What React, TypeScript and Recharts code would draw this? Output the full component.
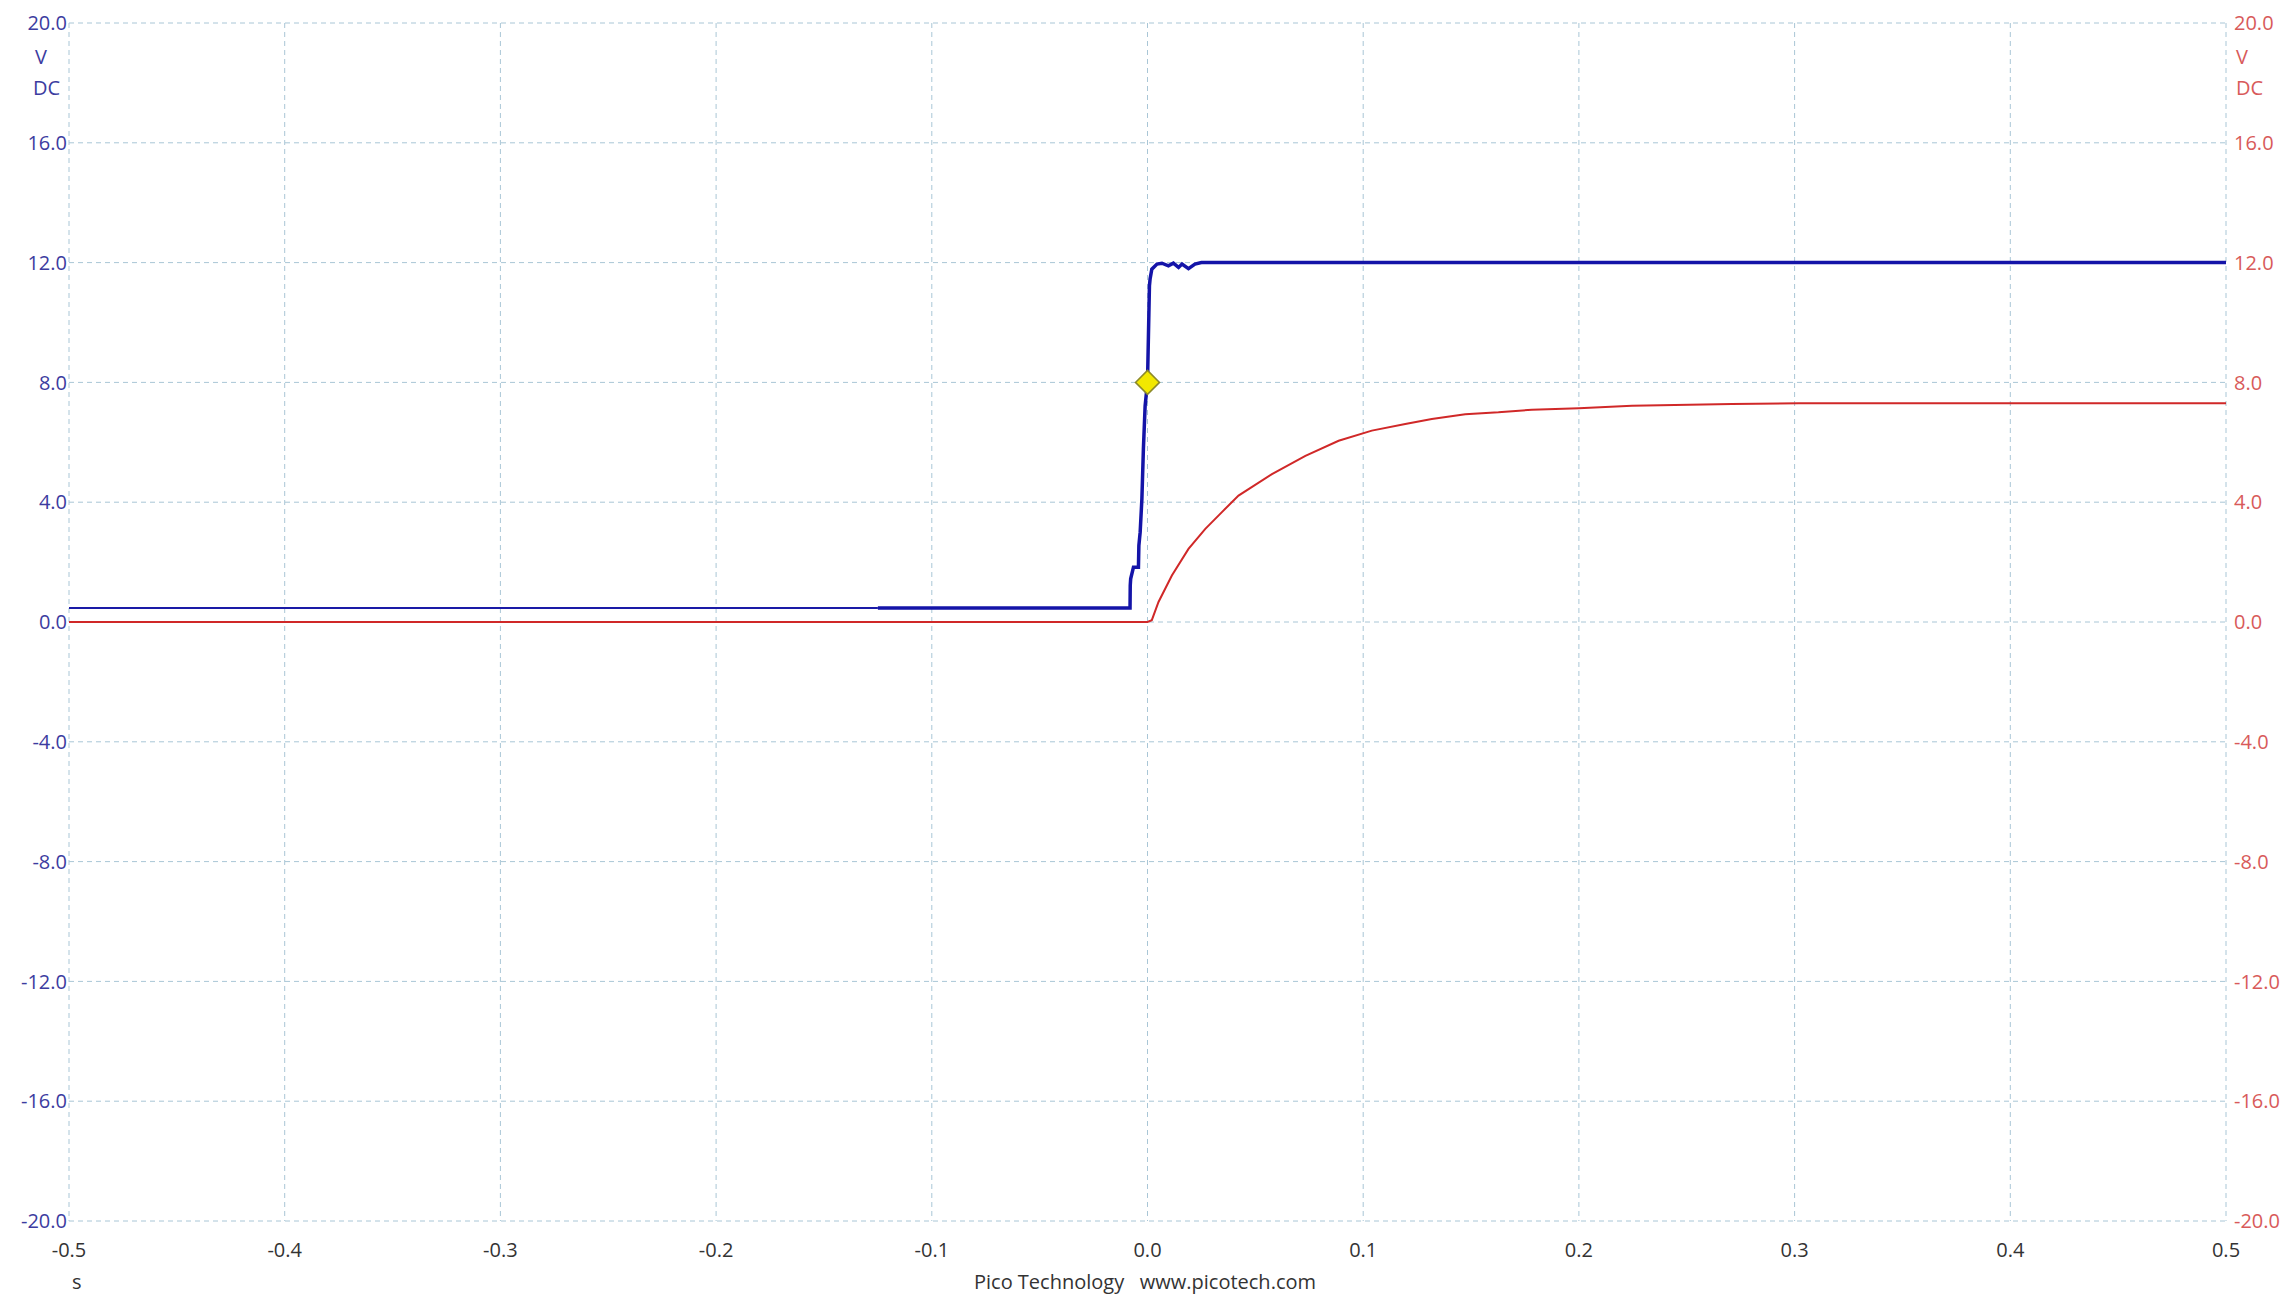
import React from 'react';
import {
  LineChart,
  Line,
  XAxis,
  YAxis,
  CartesianGrid,
  ReferenceDot,
} from 'recharts';

// time axis (s)
const xTicks = [-0.5, -0.4, -0.3, -0.2, -0.1, 0, 0.1, 0.2, 0.3, 0.4, 0.5];
// voltage axis (V)
const yTicks = [-20, -16, -12, -8, -4, 0, 4, 8, 12, 16, 20];

// channel A (blue) – thin baseline section before the capture gets dense
const blueThinT = [-0.5, -0.125];
const blueThinV = [0.47, 0.47];

// channel A (blue) – main trace
const blueT = [
  -0.125, -0.0081, -0.008, -0.0078, -0.0065, -0.0042, -0.004, -0.0034, -0.0026,
  -0.0019, -0.0011, 0, 0.0004, 0.0009, 0.0012, 0.002, 0.0044, 0.0067, 0.0097,
  0.012, 0.0144, 0.016, 0.019, 0.022, 0.025, 0.5,
];
const blueV = [
  0.47, 0.47, 1.22, 1.44, 1.83, 1.83, 2.55, 3.0, 4.11, 5.78, 7.22, 8.0, 9.44,
  11.22, 11.45, 11.78, 11.95, 11.98, 11.89, 11.98, 11.84, 11.95, 11.8, 11.95,
  12.0, 12.0,
];

// channel B (red)
const redT = [
  -0.5, 0, 0.002, 0.0051, 0.0113, 0.019, 0.0268, 0.0345, 0.0422, 0.0577, 0.0732,
  0.0886, 0.104, 0.1195, 0.1318, 0.1473, 0.1627, 0.1782, 0.2, 0.2246, 0.2709,
  0.302, 0.5,
];
const redV = [
  0, 0, 0.06, 0.67, 1.55, 2.44, 3.11, 3.67, 4.22, 4.94, 5.55, 6.05, 6.39, 6.61,
  6.78, 6.94, 7.0, 7.09, 7.14, 7.22, 7.28, 7.3, 7.3,
];

// trigger marker
const triggerT = 0;
const triggerV = 8;

const zip = (ts: number[], vs: number[]) => ts.map((t, i) => ({ t, v: vs[i] }));

const blueThinData = zip(blueThinT, blueThinV);
const blueData = zip(blueT, blueV);
const redData = zip(redT, redV);

const FONT = '"Open Sans", "Noto Sans", sans-serif';
const BLUE_TEXT = '#3c3ca0';
const RED_TEXT = '#d85a5a';
const GRID = '#a9c6d6';

const Diamond = (props: any) => {
  const { cx, cy } = props;
  if (cx == null || cy == null) return null;
  const r = 12;
  return (
    <polygon
      points={`${cx},${cy - r} ${cx + r},${cy} ${cx},${cy + r} ${cx - r},${cy}`}
      fill="#f2e800"
      stroke="#8c8a2a"
      strokeWidth={1.5}
    />
  );
};

const textBase: React.CSSProperties = {
  position: 'absolute',
  fontFamily: FONT,
  fontSize: 20,
  lineHeight: '20px',
  whiteSpace: 'pre',
};

export default function App() {
  return (
    <div
      style={{
        position: 'fixed',
        left: 0,
        top: 0,
        width: 2289,
        height: 1295,
        background: '#ffffff',
      }}
    >
      <LineChart
        width={2289}
        height={1295}
        margin={{ top: 23, right: 0, bottom: 44, left: 0 }}
      >
        <CartesianGrid stroke={GRID} strokeDasharray="5 4" yAxisId="left" />
        <XAxis
          type="number"
          dataKey="t"
          domain={[-0.5, 0.5]}
          ticks={xTicks}
          tickFormatter={(v: number) => v.toFixed(1)}
          axisLine={false}
          tickLine={false}
          tickSize={6}
          tickMargin={16}
          height={30}
          tick={{ fontSize: 20, fontFamily: FONT, fill: '#333333' }}
          allowDataOverflow
        />
        <YAxis
          yAxisId="left"
          orientation="left"
          type="number"
          domain={[-20, 20]}
          ticks={yTicks}
          tickFormatter={(v: number) => v.toFixed(1)}
          axisLine={false}
          tickLine={false}
          tickSize={0}
          tickMargin={2}
          width={69}
          tick={{ fontSize: 20, fontFamily: FONT, fill: BLUE_TEXT }}
        />
        <YAxis
          yAxisId="right"
          orientation="right"
          type="number"
          domain={[-20, 20]}
          ticks={yTicks}
          tickFormatter={(v: number) => v.toFixed(1)}
          axisLine={false}
          tickLine={false}
          tickSize={0}
          tickMargin={8}
          width={63}
          tick={{ fontSize: 20, fontFamily: FONT, fill: RED_TEXT }}
        />
        <Line
          yAxisId="right"
          data={redData}
          dataKey="v"
          type="linear"
          stroke="#d02828"
          strokeWidth={2}
          dot={false}
          isAnimationActive={false}
        />
        <Line
          yAxisId="left"
          data={blueThinData}
          dataKey="v"
          type="linear"
          stroke="#1a1aa6"
          strokeWidth={2}
          dot={false}
          isAnimationActive={false}
        />
        <Line
          yAxisId="left"
          data={blueData}
          dataKey="v"
          type="linear"
          stroke="#1414a8"
          strokeWidth={3.5}
          dot={false}
          isAnimationActive={false}
        />
        <ReferenceDot
          yAxisId="left"
          x={triggerT}
          y={triggerV}
          shape={Diamond}
        />
      </LineChart>

      <div style={{ ...textBase, left: 35, top: 47, color: BLUE_TEXT }}>V</div>
      <div style={{ ...textBase, left: 33, top: 78, color: BLUE_TEXT }}>DC</div>
      <div style={{ ...textBase, left: 2236, top: 47, color: RED_TEXT }}>V</div>
      <div style={{ ...textBase, left: 2236, top: 78, color: RED_TEXT }}>DC</div>
      <div style={{ ...textBase, left: 72, top: 1272, color: '#333333' }}>s</div>
      <div
        style={{
          ...textBase,
          left: 845,
          width: 600,
          textAlign: 'center',
          top: 1272,
          color: '#333333',
        }}
      >
        {'Pico Technology   www.picotech.com'}
      </div>
    </div>
  );
}
